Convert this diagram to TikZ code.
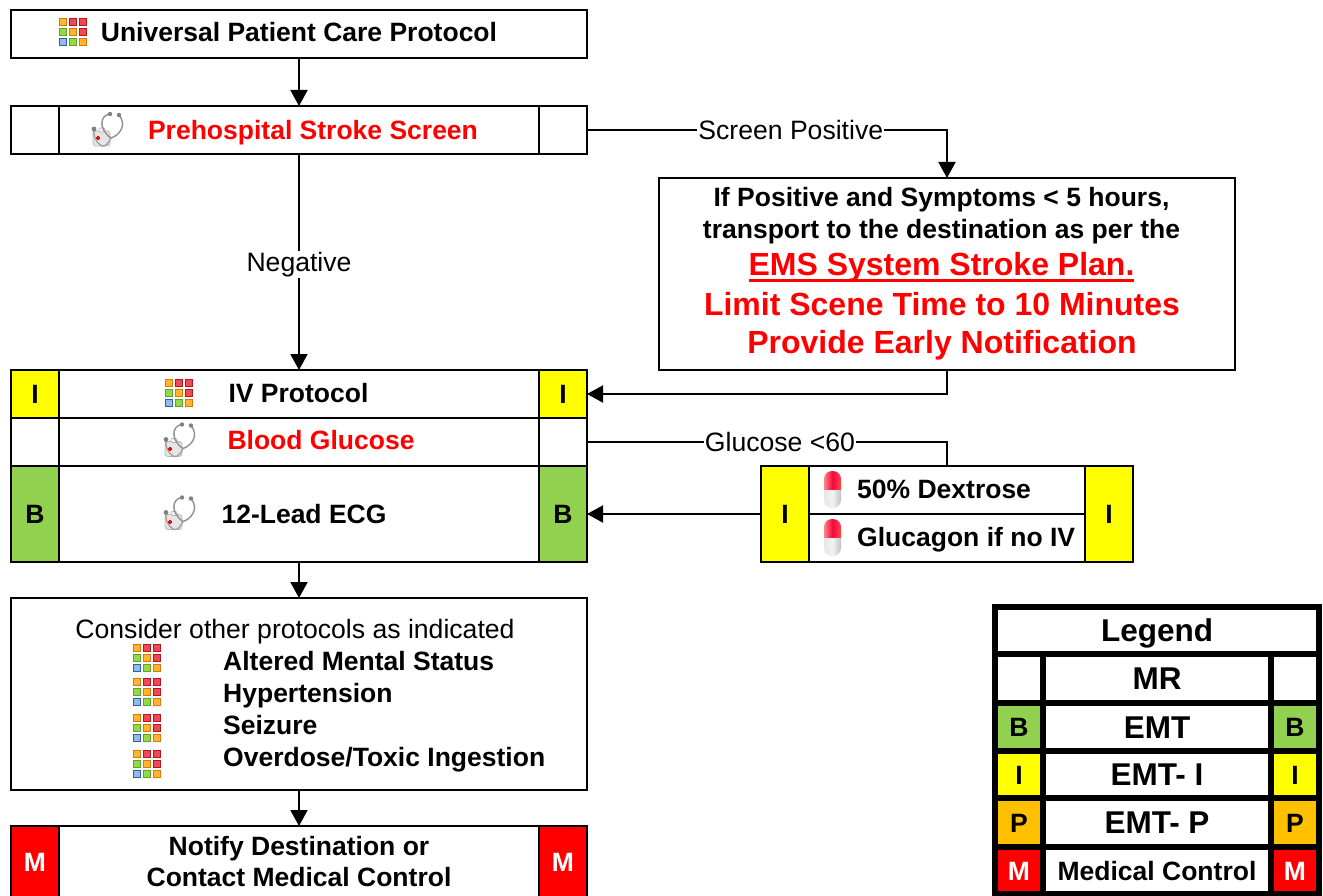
\documentclass[tikz,border=0pt]{standalone}
\usepackage{fontspec}
\setmainfont{Liberation Sans}
\usetikzlibrary{arrows.meta}
\definecolor{cgreen}{HTML}{92D050}
\definecolor{cyellow}{HTML}{FFFF00}
\definecolor{corange}{HTML}{FFC000}
\definecolor{cred}{HTML}{FF0000}
\definecolor{gO}{HTML}{FFB52E}\definecolor{gOd}{HTML}{D9780A}
\definecolor{gR}{HTML}{EE4A55}\definecolor{gRd}{HTML}{B81420}
\definecolor{gG}{HTML}{97D84A}\definecolor{gGd}{HTML}{5FA51E}
\definecolor{gB}{HTML}{94BCE0}\definecolor{gBd}{HTML}{2A62A6}
\definecolor{pillred}{HTML}{F5083A}
\tikzset{
  x=1pt,y=-1pt,
  cellbox/.style={draw=black,line width=2pt,fill=white,rectangle,inner sep=0pt,outer sep=0pt,text=black},
  legbox/.style={cellbox,line width=5.5pt},
  mainfont/.style={font=\fontsize{26.5}{31.5}\selectfont\bfseries},
  cf/.style={mainfont,text height=19pt,text depth=0pt},
  lf/.style={font=\fontsize{31.5}{36}\selectfont\bfseries,text height=22.5pt,text depth=0pt},
  bigfont/.style={font=\fontsize{32}{38}\selectfont\bfseries},
  plainfont/.style={font=\fontsize{26.6}{30}\selectfont},
  lbl/.style={plainfont,fill=white,inner sep=1pt,text=black},
  txt/.style={mainfont,inner sep=0pt,text=black,anchor=base},
  txtw/.style={txt,anchor=base west},
  redtxt/.style={txt,text=cred},
  redbig/.style={bigfont,inner sep=0pt,text=cred,anchor=base},
  conn/.style={draw=black,line width=2pt},
  arr/.style={conn,-{Triangle[length=16pt,width=17pt]}},
  gridcell/.style={line width=.9pt}
}
\newcommand{\bx}[7][]{\node[cellbox,#1,minimum width={(#5-#3)*1pt},minimum height={(#6-#4)*1pt}] (#2) at ({(#3+#5)/2},{(#4+#6)/2}) {#7};}
\newcommand{\ulx}[1]{\setbox0\hbox{#1}\rlap{\rule[-6pt]{\wd0}{3.2pt}}\box0}
\newcommand{\gcell}[4]{\fill[#3,draw=#4,gridcell] (#1,#2) rectangle ++(7.2,7.2);}
\newcommand{\gridicon}[1]{\begin{scope}[shift={(#1)}]
\gcell{-13.5}{-13.5}{gO}{gOd}\gcell{-3.6}{-13.5}{gR}{gRd}\gcell{6.3}{-13.5}{gR}{gRd}
\gcell{-13.5}{-3.6}{gG}{gGd}\gcell{-3.6}{-3.6}{gO}{gOd}\gcell{6.3}{-3.6}{gR}{gRd}
\gcell{-13.5}{6.3}{gB}{gBd}\gcell{-3.6}{6.3}{gG}{gGd}\gcell{6.3}{6.3}{gO}{gOd}
\end{scope}}
\newcommand{\stetho}[1]{\begin{scope}[shift={(#1)}]
\fill[black!10,draw=black!28,line width=.8pt,rounded corners=3pt] (-15,1) rectangle (2,16);
\fill[black!4,draw=black!30,line width=.6pt,rounded corners=1pt] (-9,-2) rectangle (-3,2);
\draw[black!38,line width=1.3pt] (-14,-1) .. controls (-15,5) and (-13,12) .. (-6,16) .. controls (-2,17) and (1,12) .. (3,8);
\draw[black!42,line width=1.5pt] (2,-16) .. controls (-8,-15) and (-10,-1) .. (3,8) .. controls (10,6) and (20,-4) .. (11,-15);
\fill[black!50] (2,-16) circle (2.2);\fill[black!50] (11,-15) circle (2.2);\fill[black!50] (-14,-1) circle (2.4);
\fill[cred] (-12,7.5) rectangle (-8,9.5);\fill[cred] (-11,6.5) rectangle (-9,10.5);
\end{scope}}
\newcommand{\pillicon}[1]{\begin{scope}[shift={(#1)}]
\begin{scope}
\clip[rounded corners=8pt] (-8.5,-18.5) rectangle (8.5,18.5);
\shade[left color=red!45!white,right color=red!70!white,middle color=pillred] (-9,-19) rectangle (9,1);
\shade[left color=black!10,right color=black!25,middle color=black!5] (-9,1) rectangle (9,19);
\end{scope}
\end{scope}}
\begin{document}
\begin{tikzpicture}
\useasboundingbox (0,0) rectangle (1323,896);
% main column
\bx{uni}{11}{10}{587}{58}{}
\bx{pre}{11}{106}{587}{154}{}
\bx{prel}{11}{106}{59}{154}{}
\bx{prer}{539}{106}{587}{154}{}
\bx{ifp}{659}{178}{1235}{370}{}
\bx{iv}{11}{370}{587}{418}{}
\bx[fill=cyellow,cf]{ivl}{11}{370}{59}{418}{I}
\bx[fill=cyellow,cf]{ivr}{539}{370}{587}{418}{I}
\bx{bg}{11}{418}{587}{466}{}
\bx{bgl}{11}{418}{59}{466}{}
\bx{bgr}{539}{418}{587}{466}{}
\bx{ecg}{11}{466}{587}{562}{}
\bx[fill=cgreen,cf]{ecgl}{11}{466}{59}{562}{B}
\bx[fill=cgreen,cf]{ecgr}{539}{466}{587}{562}{B}
\bx{dex}{761}{466}{1133}{562}{}
\bx{dexa}{809}{466}{1085}{514}{}
\bx{dexb}{809}{514}{1085}{562}{}
\bx[fill=cyellow,cf]{dexl}{761}{466}{809}{562}{I}
\bx[fill=cyellow,cf]{dexr}{1085}{466}{1133}{562}{I}
\bx{oth}{11}{598}{587}{790}{}
\bx{notif}{11}{826}{587}{898}{}
\bx[fill=cred,cf,text=white]{notl}{11}{826}{59}{898}{M}
\bx[fill=cred,cf,text=white]{notr}{539}{826}{587}{898}{M}
% texts
\node[txt] (tuni) at (299,42) {Universal Patient Care Protocol};
\node[redtxt] (tpre) at (313,140) {Prehospital Stroke Screen};
\node[txt] (tif1) at (941.5,207) {If Positive and Symptoms < 5 hours,};
\node[txt] (tif2) at (941.5,239) {transport to the destination as per the};
\node[redbig] (tif3) at (941.5,276) {\ulx{EMS System Stroke Plan.}};
\node[redbig] (tif4) at (942,315) {Limit Scene Time to 10 Minutes};
\node[redbig] (tif5) at (942,353) {Provide Early Notification};
\node[txt] (tiv) at (298.5,402) {IV Protocol};
\node[redtxt] (tbg) at (321,449.5) {Blood Glucose};
\node[txt] (tecg) at (304,523) {12-Lead ECG};
\node[txtw] (tdexa) at (857,498) {50\% Dextrose};
\node[txtw] (tdexb) at (857,546) {Glucagon if no IV};
\node[plainfont,inner sep=0pt,anchor=base] (toth) at (295,638) {Consider other protocols as indicated};
\node[txtw] (o1) at (223,670) {Altered Mental Status};
\node[txtw] (o2) at (223,702) {Hypertension};
\node[txtw] (o3) at (223,734) {Seizure};
\node[txtw] (o4) at (223,766) {Overdose/Toxic Ingestion};
\node[txt] (tnot1) at (299,855) {Notify Destination or};
\node[txt] (tnot2) at (299,886) {Contact Medical Control};
% icons
\gridicon{73,32}
\stetho{108,130}
\gridicon{179,393}
\stetho{180,440.5}
\stetho{180,513.5}
\pillicon{832.5,489.5}
\pillicon{832.5,537.5}
\gridicon{147,658}
\gridicon{147,692}
\gridicon{147,728}
\gridicon{147,764}
% connectors
\draw[arr] (uni) -- (pre);
\draw[arr] (pre.east) -| node[lbl,pos=.283] {Screen Positive} (ifp.north);
\draw[arr] (pre) -- node[lbl,pos=.51] {Negative} (iv);
\draw[arr] (ifp.south) |- (ivr.east);
\draw[conn] (bgr.east) -| node[lbl,pos=.268] {Glucose <60} (dex.north);
\draw[arr] (dexl.west) -- (ecgr.east);
\draw[arr] (ecg) -- (oth);
\draw[arr] (oth) -- (notif);
% legend
\bx[legbox,lf]{lt}{995}{607}{1319}{654}{Legend}
\bx[legbox,lf]{lm1}{1043}{654}{1271}{703}{MR}
\bx[legbox,lf]{lm2}{1043}{703}{1271}{751}{EMT}
\bx[legbox,lf]{lm3}{1043}{751}{1271}{798}{EMT- I}
\bx[legbox,lf]{lm4}{1043}{798}{1271}{847}{EMT- P}
\bx[legbox,cf]{lm5}{1043}{847}{1271}{894}{Medical Control}
\bx[legbox,cf]{la1}{995}{654}{1043}{703}{}
\bx[legbox,cf]{lb1}{1271}{654}{1319}{703}{}
\bx[legbox,cf,fill=cgreen]{la2}{995}{703}{1043}{751}{B}
\bx[legbox,cf,fill=cgreen]{lb2}{1271}{703}{1319}{751}{B}
\bx[legbox,cf,fill=cyellow]{la3}{995}{751}{1043}{798}{I}
\bx[legbox,cf,fill=cyellow]{lb3}{1271}{751}{1319}{798}{I}
\bx[legbox,cf,fill=corange]{la4}{995}{798}{1043}{847}{P}
\bx[legbox,cf,fill=corange]{lb4}{1271}{798}{1319}{847}{P}
\bx[legbox,cf,fill=cred,text=white]{la5}{995}{847}{1043}{894}{M}
\bx[legbox,cf,fill=cred,text=white]{lb5}{1271}{847}{1319}{894}{M}
\end{tikzpicture}
\end{document}
